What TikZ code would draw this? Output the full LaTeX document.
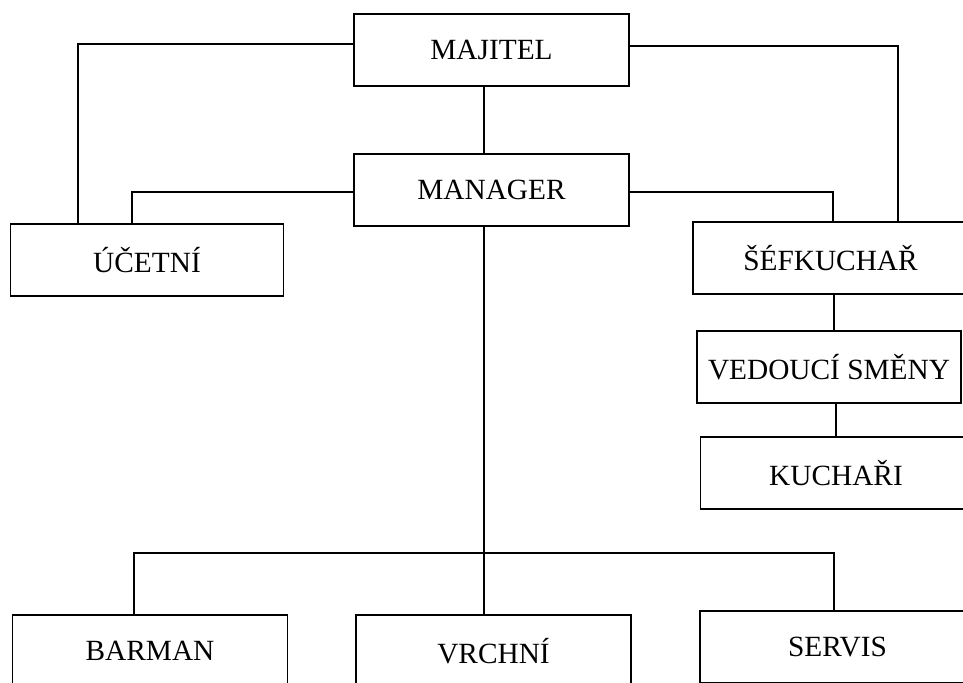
\documentclass[tikz,border=0pt]{standalone}
\usepackage{fontspec}
\setmainfont{Liberation Serif}
\usetikzlibrary{positioning}
\tikzset{
  orgbox/.style={draw,line width=1.1pt,minimum width=206pt,minimum height=54pt,inner sep=0pt,font=\fontsize{22}{26}\selectfont},
  orgline/.style={line width=1.1pt}
}
\begin{document}
\begin{tikzpicture}[x=0.75pt,y=-0.75pt]
\useasboundingbox (0,0) rectangle (963,682);
\clip (0,0) rectangle (963,682);
% boxes
\node[orgbox] (majitel) at (491.5,50) {MAJITEL};
\node[orgbox] (manager) at (491.5,190) {MANAGER};
\node[orgbox,minimum width=205pt] (ucetni) at (147,260) {ÚČETNÍ};
\node[orgbox] (sefkuchar) at (830.5,258) {ŠÉFKUCHAŘ};
\node[orgbox,minimum width=198pt] (vedouci) at (829,367) {VEDOUCÍ SMĚNY};
\node[orgbox,minimum width=203pt] (kuchari) at (836,473) {KUCHAŘI};
\node[orgbox] (barman) at (150,651) {BARMAN};
\node[orgbox] (vrchni) at (493.5,651) {VRCHNÍ};
\node[orgbox] (servis) at (837.5,647) {SERVIS};
% helper points
\coordinate (spine) at (484,0);
\coordinate (accL) at (78,0);
\coordinate (accR) at (132,0);
\coordinate (chefL) at (833,0);
\coordinate (chefR) at (898,0);
\coordinate (busL) at (134,553);
\coordinate (busR) at (834,553);
% connectors
\draw[orgline] ([yshift=4.5pt]majitel.west) -| (ucetni.north -| accL);
\draw[orgline] ([yshift=3pt]majitel.east) -| (sefkuchar.north -| chefR);
\draw[orgline] (majitel.south -| spine) -- (manager.north -| spine);
\draw[orgline] ([yshift=-1.5pt]manager.west) -| (ucetni.north -| accR);
\draw[orgline] ([yshift=-1.5pt]manager.east) -| (sefkuchar.north -| chefL);
\draw[orgline] (sefkuchar.south -| busR) -- (vedouci.north -| busR);
\draw[orgline] (vedouci.south -| kuchari.north) -- (kuchari.north);
\draw[orgline] (manager.south -| spine) -- (vrchni.north -| spine);
\draw[orgline] (barman.north -| busL) -- (busL) -- (busR) -- (servis.north -| busR);
\end{tikzpicture}
\end{document}
